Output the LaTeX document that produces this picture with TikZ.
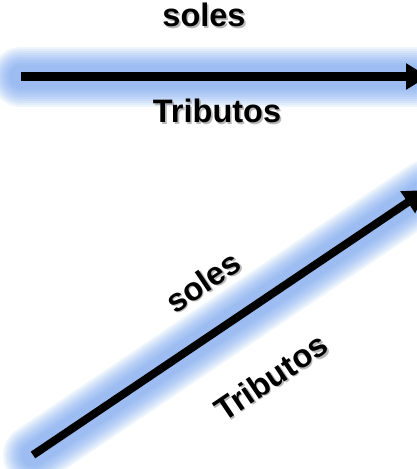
\documentclass[tikz,border=0pt]{standalone}
\usepackage{fontspec}
\setmainfont{Liberation Sans}
\usetikzlibrary{arrows.meta,calc}
\definecolor{glowblue}{RGB}{118,164,240}
\tikzset{
  x=1pt, y=-1pt,
  glow/.style={line cap=round, draw=glowblue, opacity=0.11},
  arrowline/.style={line width=8.5pt, draw=black, -{Triangle[length=22pt,width=25pt]}},
  lbl/.style={font=\bfseries\fontsize{32.5}{34}\selectfont, inner sep=0pt},
  shadowlbl/.style={lbl, text=black!40, opacity=0.7},
}
\newcommand{\glowpath}[2]{%
  \foreach \w in {60,56,52,48,44,40,36,32,28,24}{%
    \draw[glow, line width=\w pt] (#1) -- (#2);
  }%
}
\newcommand{\shlabel}[4]{% name, position, rotation, text
  \node[shadowlbl, rotate=#3] at ($(#2)+(1.6,1.6)$) {#4};
  \node[lbl, rotate=#3] (#1) at (#2) {#4};
}
\begin{document}
\begin{tikzpicture}
\useasboundingbox (0,0) rectangle (416,469);
\fill[white] (0,0) rectangle (416,469);
% coordinates
\coordinate (a1) at (21,76.5);
\coordinate (b1) at (428,76.5);
\coordinate (a2) at (33,455);
\coordinate (b2) at (426,190);
% glows
\glowpath{a1}{b1}
\glowpath{a2}{b2}
% arrows
\draw[arrowline] (a1) -- (b1);
\draw[arrowline, line width=8pt] (a2) -- (b2);
% labels
\coordinate (p1) at (204,15);
\coordinate (p2) at (217,111);
\coordinate (p3) at (203,281.5);
\coordinate (p4) at (271,377);
\shlabel{t1}{p1}{0}{soles}
\shlabel{t2}{p2}{0}{Tributos}
\shlabel{t3}{p3}{34}{soles}
\shlabel{t4}{p4}{34}{Tributos}
\end{tikzpicture}
\end{document}
